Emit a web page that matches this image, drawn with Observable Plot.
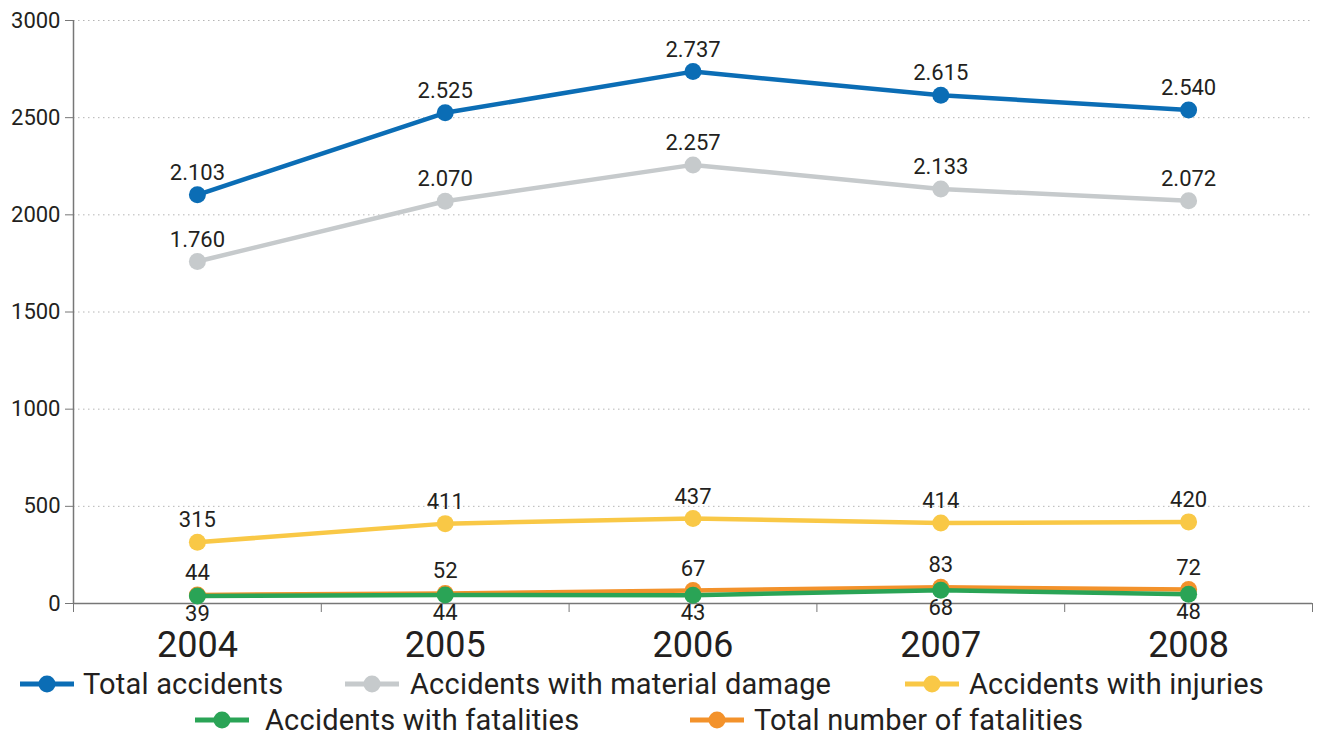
<!DOCTYPE html>
<html><head><meta charset="utf-8">
<script src="https://cdn.jsdelivr.net/npm/d3@7"></script>
<script src="https://cdn.jsdelivr.net/npm/@observablehq/plot@0.6"></script>
<style>
body{margin:0;background:#fff;font-family:Roboto,"DejaVu Sans",sans-serif;color:#231f20}
#wrap{position:relative;width:1318px;height:736px}
#chart svg{display:block}
.lg{position:absolute;white-space:nowrap;font-size:29px;line-height:28px;letter-spacing:0.2px;color:#231f20}
.sw{position:absolute}
</style></head>
<body><div id="wrap"><div id="chart"></div><div id="legend"></div></div>
<script>
const years = [2004, 2005, 2006, 2007, 2008];
const seriesNames = ["Total accidents", "Accidents with material damage", "Accidents with injuries", "Accidents with fatalities", "Total number of fatalities"];
const totalAccidents = [2103, 2525, 2737, 2615, 2540];
const materialDamage = [1760, 2070, 2257, 2133, 2072];
const withInjuries = [315, 411, 437, 414, 420];
const withFatalities = [39, 44, 43, 68, 48];
const totalFatalities = [44, 52, 67, 83, 72];
const seriesColors = ["#0b6db5", "#c6cacc", "#f9c846", "#2aa456", "#f3922b"];
const labelBelow = [false, false, false, true, false];
const yTicks = [0, 500, 1000, 1500, 2000, 2500, 3000];
const bandEdges = [2003.5, 2004.5, 2005.5, 2006.5, 2007.5, 2008.5];

const seriesValues = [totalAccidents, materialDamage, withInjuries, withFatalities, totalFatalities];
const rows = [];
seriesValues.forEach((vals, si) => vals.forEach((v, i) => rows.push({series: seriesNames[si], si, year: years[i], value: v})));

const fmt = d3.formatLocale({decimal: ",", thousands: ".", grouping: [3], currency: ["", ""]}).format(",");

// draw order: blue, gray, yellow, orange, green (green on top)
const drawOrder = [0, 1, 2, 4, 3];
const seriesMarks = [];
for (const si of drawOrder) {
  const d = rows.filter(r => r.si === si);
  seriesMarks.push(Plot.line(d, {x: "year", y: "value", stroke: seriesColors[si], strokeWidth: 4.5}));
  seriesMarks.push(Plot.dot(d, {x: "year", y: "value", fill: seriesColors[si], r: 8.5}));
}
const labelMarks = [];
for (const si of drawOrder) {
  const d = rows.filter(r => r.si === si);
  labelMarks.push(Plot.text(d, {x: "year", y: "value", text: r => fmt(r.value), dy: labelBelow[si] ? 18 : -22, fontSize: 22, fill: "#231f20"}));
}

const chart = Plot.plot({
  width: 1318,
  height: 666,
  marginTop: 20,
  marginBottom: 63,
  marginLeft: 73,
  marginRight: 6,
  style: {fontFamily: "Roboto, 'DejaVu Sans', sans-serif", color: "#231f20", background: "#fff"},
  x: {domain: [2003.5, 2008.5]},
  y: {domain: [0, 3000]},
  marks: [
    Plot.gridY(yTicks.slice(1), {stroke: "#b5b5b5", strokeOpacity: 1, strokeDasharray: "1.5,3.5"}),
    Plot.axisY(yTicks, {tickSize: 8, tickPadding: 5, fontSize: 22, label: null, stroke: "#777", color: "#231f20", tickFormat: d => String(d)}),
    Plot.axisX(bandEdges, {tickSize: 9, tickFormat: () => "", label: null, stroke: "#777"}),
    Plot.axisX(years, {tickSize: 0, tickPadding: 28, fontSize: 36, label: null, tickFormat: d => String(d), color: "#231f20"}),
    Plot.ruleX([2003.5], {stroke: "#777", strokeWidth: 1.5}),
    Plot.ruleY([0], {stroke: "#777", strokeWidth: 1.5}),
    ...seriesMarks,
    ...labelMarks
  ]
});
document.getElementById("chart").appendChild(chart);

// legend
const legendPos = [
  {sw: 20, tx: 83, cy: 684},
  {sw: 345, tx: 410, cy: 684},
  {sw: 905, tx: 969, cy: 684},
  {sw: 195, tx: 265, cy: 720},
  {sw: 690, tx: 754, cy: 720}
];
const lg = document.getElementById("legend");
seriesNames.forEach((name, i) => {
  const p = legendPos[i];
  const s = document.createElementNS("http://www.w3.org/2000/svg", "svg");
  s.setAttribute("width", 54); s.setAttribute("height", 20);
  s.setAttribute("class", "sw");
  s.style.left = p.sw + "px"; s.style.top = (p.cy - 10) + "px";
  s.innerHTML = `<line x1="0" x2="54" y1="10" y2="10" stroke="${seriesColors[i]}" stroke-width="5"/><circle cx="27" cy="10" r="8.5" fill="${seriesColors[i]}"/>`;
  lg.appendChild(s);
  const t = document.createElement("div");
  t.className = "lg";
  t.textContent = name;
  t.style.left = p.tx + "px"; t.style.top = (p.cy - 14) + "px";
  lg.appendChild(t);
});
</script>
</body></html>
